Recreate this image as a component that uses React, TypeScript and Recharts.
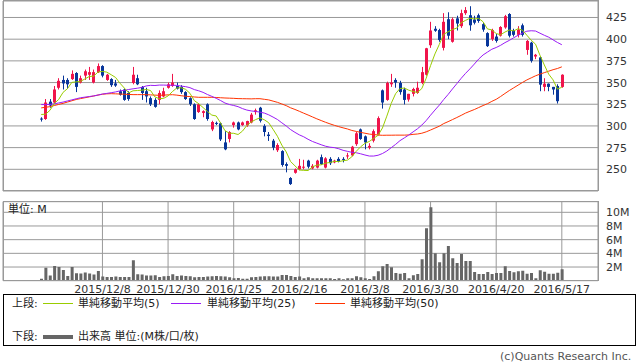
import React from "react";
import { ComposedChart, Bar, Line, XAxis, YAxis, CartesianGrid } from "recharts";

// trading days shown on the chart
const nov2015 = [17, 18, 19, 20, 24, 25, 26, 27, 30];
const dec2015 = [1, 2, 3, 4, 7, 8, 9, 10, 11, 14, 15, 16, 17, 18, 21, 22, 24, 25, 28, 29, 30];
const jan2016 = [4, 5, 6, 7, 8, 12, 13, 14, 15, 18, 19, 20, 21, 22, 25, 26, 27, 28, 29];
const feb2016 = [1, 2, 3, 4, 5, 8, 9, 10, 12, 15, 16, 17, 18, 19, 22, 23, 24, 25, 26, 29];
const mar2016 = [1, 2, 3, 4, 7, 8, 9, 10, 11, 14, 15, 16, 17, 18, 22, 23, 24, 25, 28, 29, 30, 31];
const apr2016 = [1, 4, 5, 6, 7, 8, 11, 12, 13, 14, 15, 18, 19, 20, 21, 22, 25, 26, 27, 28];
const may2016 = [2, 6, 9, 10, 11, 12, 13, 16, 17];

const tickDates = ["2015/12/8", "2015/12/30", "2016/1/25", "2016/2/16", "2016/3/8", "2016/3/30", "2016/4/20", "2016/5/17"];
const priceTicks = [250, 275, 300, 325, 350, 375, 400, 425];
const volumeTicks = [2, 4, 6, 8, 10];

const opens = [
  308.5, 308, 328, 327, 344, 353, 353, 354, 361, 350, 358, 359, 350, 362, 369, 353, 354, 349, 340, 342,
  338, 349.5, 355, 345, 340, 332, 330, 330, 334, 344, 346, 346, 345, 339, 332, 325, 316, 315, 325, 296,
  303.5, 303, 281, 285, 301, 304, 301, 300.6, 304, 316, 321, 300, 290, 283, 272, 271, 256, 240, 246, 250,
  252, 260, 251, 252, 264, 252, 262, 258, 262, 262, 265, 266, 279, 296, 288, 275, 283, 290, 341, 330,
  348, 353, 349.5, 342, 330.4, 337, 338, 349.5, 359, 393, 412, 410.5, 390, 423, 397, 424, 415, 430, 427.6, 422.7,
  427.6, 417.3, 407, 400, 403, 404, 413.5, 429, 410, 405, 416, 387.6, 396, 380, 379, 345, 348.7, 345, 346, 345,
];
const highs = [
  310, 331, 331, 346, 355, 358, 355, 364, 362, 358, 365, 368, 365, 372, 370, 360, 355, 353, 342, 343,
  340, 368, 359, 346, 344, 334, 332, 341, 344, 350, 360, 350, 347, 340, 333, 326, 326, 318, 326, 306,
  305, 304, 294, 294, 305, 305, 305, 306, 315, 320, 322, 302, 293, 285, 280, 272, 258, 241, 251, 262,
  261, 261, 256, 261, 267, 264, 264, 261, 264, 264, 269, 277, 293, 297, 289, 280, 296, 311, 342, 351,
  360, 355, 352, 344, 337, 344, 351, 368, 390, 420, 415, 412, 430, 431, 425, 427, 434, 437, 438, 427,
  429.5, 418.9, 408, 412, 406, 415, 428, 430, 412, 415, 418, 399, 397, 383, 380, 355, 349, 345, 348, 359.5,
];
const lows = [
  305, 307, 321, 326, 342, 342, 343, 353, 339, 349, 353, 353, 349, 361, 356, 352, 345, 345, 335, 329,
  329, 348, 347, 330, 327, 323, 321, 325, 333, 343, 345, 342, 337, 330, 323, 307, 315, 310, 306, 294,
  301, 282.6, 272, 281, 298, 295, 300, 299, 303, 313, 304, 288, 282.7, 272, 270, 253, 246.5, 232, 245, 249,
  250, 251, 250, 251, 255, 251, 255, 257, 258, 258, 262, 265, 277, 284, 273, 273, 281, 289, 320, 329,
  345, 344, 336, 324.8, 328, 334, 337, 348, 358, 390, 408.5, 397, 387, 400, 396, 410, 413, 428, 409.7, 417,
  418.9, 408.6, 391, 398, 396, 403, 412, 402, 403, 402, 403, 382, 373, 377, 340, 340, 340, 336, 325.8, 344,
];
const closes = [
  308, 327, 323.5, 342, 352, 349, 348, 360, 345, 355, 363, 362, 362, 369, 358, 359, 347, 346.5, 336, 330,
  331, 359, 348, 338, 334, 325, 322, 338, 340, 348, 350, 343, 339, 331, 325, 308, 325, 317, 308, 304.5,
  303, 284.5, 273, 293, 304, 296, 304, 305.6, 313, 318, 306, 293, 288.4, 275, 278, 255, 254, 233, 250, 254,
  253, 253, 254, 260, 256, 262.6, 257, 260, 259, 261, 266, 276, 291.5, 285, 281, 277, 294, 309, 327, 349.5,
  350, 350, 339, 330, 337, 342.6, 344, 362, 389.5, 410, 409.7, 399, 420, 404, 423, 418, 430, 433.5, 416, 419,
  421, 411, 392, 410.5, 398, 414, 426.5, 404, 405, 411, 405, 398, 375, 382, 347.6, 348.7, 345, 342, 328.5, 359,
];
// volume, millions
const volumes = [
  0.3, 1.9, 0.75, 2.15, 2.0, 1.55, 0.7, 2.0, 1.1, 1.05, 1.2, 1.05, 0.9, 1.4, 0.6, 0.55, 0.55, 0.6, 0.55, 0.55,
  0.55, 3.0, 0.95, 0.9, 0.75, 0.75, 0.8, 0.55, 0.65, 0.7, 0.95, 0.7, 0.75, 0.7, 0.65, 0.5, 0.55, 0.55, 0.6, 0.65,
  0.7, 0.65, 0.6, 0.5, 0.35, 0.4, 0.3, 0.3, 0.5, 0.55, 0.6, 0.65, 0.65, 0.6, 0.6, 0.85, 0.85, 0.7, 0.55, 0.6,
  0.35, 0.5, 0.35, 0.35, 0.35, 0.35, 0.35, 0.25, 0.35, 0.2, 0.35, 0.35, 0.64, 0.5, 0.35, 0.25, 0.64, 1.37, 2.1, 2.44,
  1.95, 1.13, 1.03, 1.13, 0.35, 0.78, 0.98, 3.12, 7.66, 10.73, 4.0, 2.69, 4.0, 5.07, 3.27, 2.59, 3.9, 2.88, 2.88, 1.27,
  0.98, 0.98, 1.27, 0.98, 1.13, 1.13, 2.1, 1.42, 1.22, 1.37, 1.47, 1.03, 1.13, 0.35, 1.52, 1.32, 1.03, 1.03, 1.17, 1.66,
];
const ma5 = [
  313.2, 313.5, 318, 326, 330.5, 338.7, 342.9, 350.2, 350.8, 351.4, 354.2, 357, 357.4, 362.2, 362.8, 362, 359, 355.9, 349.3, 343.7,
  338.1, 340.5, 340.8, 341.2, 342, 340.8, 333.4, 331.4, 331.8, 334.6, 339.6, 343.8, 344, 342.2, 337.6, 329.2, 325.6, 321.2, 316.6, 312.5,
  311.5, 303.4, 294.6, 291.6, 291.5, 290.1, 294, 300.5, 304.5, 307.3, 309.3, 307.1, 303.7, 296.1, 288.1, 277.9, 270.1, 259, 254, 249.2,
  248.8, 248.6, 252.8, 254.8, 255.2, 257.1, 257.9, 259.1, 258.9, 259.9, 260.6, 264.4, 270.7, 275.9, 279.9, 282.1, 285.7, 289.2, 297.6, 311.3,
  325.9, 337.1, 343.1, 343.7, 341.2, 339.7, 338.5, 343.1, 355, 369.6, 383, 394, 405.6, 408.5, 411.1, 412.8, 419, 421.7, 424.1, 423.3,
  423.9, 420.1, 411.8, 410.7, 406.5, 405.1, 408.2, 410.6, 409.5, 412.1, 410.3, 404.6, 398.8, 394.2, 381.5, 370.3, 359.7, 353.1, 342.4, 344.6,
];
const ma25 = [
  324.6, 324.6, 324.8, 325.5, 326.5, 327.5, 328.8, 330, 331.3, 332.5, 333.2, 333.9, 334.6, 335.6, 336.8, 337.5, 338.3, 339.2, 340.4, 341,
  342, 342.8, 343.5, 344.4, 346.1, 346.8, 346.6, 347.1, 347.1, 346.9, 346.9, 346.7, 345.9, 345.3, 344.1, 341.9, 340.5, 338.7, 336.2, 334.1,
  331.8, 329.3, 326.4, 324.7, 323.6, 322.2, 320, 318.3, 317.3, 316.7, 315.9, 314.8, 312.8, 310.2, 307.4, 303.6, 300, 295.8, 292.6, 289.7,
  287.5, 284.6, 282.1, 280.2, 278.3, 276.6, 275.5, 275, 273.7, 271.9, 270.7, 269.6, 269.1, 267.9, 266.5, 265.3, 265.3, 266.2, 268.2, 271.1,
  274.9, 278.7, 283, 286.2, 289.5, 293.1, 296.7, 301, 306.2, 312.4, 318.3, 324, 330.4, 336.2, 342.6, 348.7, 354.9, 360.6, 365.8, 371.3,
  377.1, 381.8, 385.1, 388.4, 390.4, 392.9, 396, 398.6, 401.6, 404.5, 407, 409.2, 409.7, 409.4, 406.9, 404.5, 402.3, 399.2, 396.2, 393.6,
];
const ma50 = [
  320.8, 321.5, 322.2, 323.5, 324.8, 326, 327.5, 329, 330.5, 331.5, 332.5, 333.5, 334.5, 335.6, 336.5, 337, 337.2, 337, 336.8, 336.5,
  336.3, 336.1, 336.1, 336.1, 336, 335.8, 335.5, 335.3, 335.5, 335.8, 336, 335.5, 334.8, 334.2, 333.8, 333.4, 333, 333, 333, 333,
  332.8, 332.5, 332.2, 332, 331.8, 331.5, 331.4, 331.3, 331.2, 331.4, 331.4, 330.7, 330, 328.6, 327.2, 325.3, 323.4, 320.9, 319, 316.9,
  314.7, 312.6, 310.4, 308.2, 306.2, 304.2, 302.4, 300.7, 299.2, 297.8, 296.5, 294.8, 293.7, 292.6, 291.6, 290.6, 290.1, 289.5, 289.2, 289.3,
  289.3, 289.4, 289.4, 289.4, 289.6, 290.3, 290.7, 291.6, 293.2, 295.3, 297.5, 299.7, 302.7, 304.9, 307.3, 309.7, 312.2, 314.8, 316.9, 318.9,
  321.2, 323.5, 325.6, 328.3, 330.7, 333.9, 337.4, 340.8, 343.9, 347, 350.1, 353, 355.4, 357.8, 359.7, 361.4, 363.1, 364.8, 366.2, 368.1,
];

const UP = "#f0144b";
const DOWN = "#08369a";
const GRID = "#999999";
const FONT = "'DejaVu Sans', 'Noto Sans CJK JP', sans-serif";

const months: [string, number[]][] = [
  ["2015/11", nov2015], ["2015/12", dec2015], ["2016/1", jan2016], ["2016/2", feb2016],
  ["2016/3", mar2016], ["2016/4", apr2016], ["2016/5", may2016],
];
const dates = months.flatMap(([m, days]) => days.map((d) => `${m}/${d}`));

const rows = dates.map((date, i) => ({
  date,
  open: opens[i],
  high: highs[i],
  low: lows[i],
  close: closes[i],
  range: [lows[i], highs[i]],
  volume: volumes[i],
  ma5: ma5[i],
  ma25: ma25[i],
  ma50: ma50[i],
}));

const Candle = (props: any) => {
  const { x, y, width, height, payload } = props;
  if (!payload || payload.open == null) return null;
  const { open, close, high, low } = payload;
  const color = close >= open ? UP : DOWN;
  const top = Math.min(y, y + height);
  const h = Math.abs(height);
  const k = high > low ? h / (high - low) : 0;
  const c = Math.floor(x + width / 2);
  const bodyTop = top + (high - Math.max(open, close)) * k;
  const bodyBot = top + (high - Math.min(open, close)) * k;
  return (
    <g>
      <line x1={c + 0.5} x2={c + 0.5} y1={top} y2={top + h} stroke={color} strokeWidth={1} />
      <rect x={c - 1} y={bodyTop} width={3} height={Math.max(1, bodyBot - bodyTop)} fill={color} />
    </g>
  );
};

const RightTick = ({ x, y, payload, suffix }: any) => (
  <text x={x} y={y} dy={4} fontSize={11} fill="#333" textAnchor="start" fontFamily={FONT}>
    {payload.value}
    {suffix}
  </text>
);

const DateTick = ({ x, y, payload }: any) => (
  <text x={x} y={y} dy={4} fontSize={11} fill="#333" textAnchor="middle" fontFamily={FONT}>
    {payload.value}
  </text>
);

const legendText: React.CSSProperties = { position: "absolute", fontSize: 11, lineHeight: "13px", color: "#222", whiteSpace: "nowrap" };

const App: React.FC = () => {
  const xPad = { left: 36, right: 34 };
  return (
    <div style={{ position: "absolute", left: 0, top: 0, width: 638, height: 362, background: "#fff", fontFamily: FONT }}>
      <div style={{ position: "absolute", left: 0, top: 0 }}>
        <ComposedChart width={638} height={192} data={rows} margin={{ top: 1, right: 0, bottom: 0, left: 3 }}>
          <CartesianGrid stroke={GRID} />
          <XAxis dataKey="date" ticks={tickDates} interval={0} padding={xPad} height={1} tick={false} axisLine={false} tickLine={false} />
          <YAxis
            orientation="right"
            width={40}
            domain={[225, 444]}
            ticks={priceTicks}
            interval={0}
            allowDataOverflow
            axisLine={false}
            tickLine={false}
            tick={<RightTick />}
          />
          <Bar dataKey="range" shape={<Candle />} isAnimationActive={false} />
          <Line dataKey="ma50" stroke="#ff3300" strokeWidth={1} dot={false} isAnimationActive={false} />
          <Line dataKey="ma25" stroke="#9a1cf5" strokeWidth={1} dot={false} isAnimationActive={false} />
          <Line dataKey="ma5" stroke="#99cc00" strokeWidth={1} dot={false} isAnimationActive={false} />
        </ComposedChart>
      </div>
      <div style={{ position: "absolute", left: 3, top: 0, width: 596, height: 191, border: `1px solid ${GRID}`, boxSizing: "border-box", pointerEvents: "none" }} />

      <div style={{ position: "absolute", left: 0, top: 196 }}>
        <ComposedChart width={638} height={104} data={rows} margin={{ top: 5.7, right: 0, bottom: 0, left: 3 }}>
          <CartesianGrid stroke={GRID} />
          <XAxis dataKey="date" ticks={tickDates} interval={0} padding={xPad} height={19.3} axisLine={false} tickLine={false} tick={<DateTick />} />
          <YAxis
            orientation="right"
            width={40}
            domain={[0, 11.55]}
            ticks={volumeTicks}
            interval={0}
            allowDataOverflow
            axisLine={false}
            tickLine={false}
            tick={<RightTick suffix="M" />}
          />
          <Bar dataKey="volume" fill="#666666" barSize={3} isAnimationActive={false} />
        </ComposedChart>
      </div>
      <div style={{ position: "absolute", left: 3, top: 201, width: 596, height: 80, border: `1px solid ${GRID}`, boxSizing: "border-box", pointerEvents: "none" }} />
      <div style={{ ...legendText, left: 8, top: 203 }}>単位: M</div>

      <div style={{ position: "absolute", left: 3, top: 294, width: 633, height: 52, border: "1px solid #000", boxSizing: "border-box" }} />
      <div style={{ ...legendText, left: 12, top: 297 }}>上段:</div>
      <div style={{ position: "absolute", left: 43, top: 303, width: 30, height: 1, background: "#99cc00" }} />
      <div style={{ ...legendText, left: 78, top: 297 }}>単純移動平均(5)</div>
      <div style={{ position: "absolute", left: 171, top: 303, width: 30, height: 1, background: "#9a1cf5" }} />
      <div style={{ ...legendText, left: 207, top: 297 }}>単純移動平均(25)</div>
      <div style={{ position: "absolute", left: 315, top: 303, width: 30, height: 1, background: "#ff3300" }} />
      <div style={{ ...legendText, left: 350, top: 297 }}>単純移動平均(50)</div>
      <div style={{ ...legendText, left: 12, top: 330 }}>下段:</div>
      <div style={{ position: "absolute", left: 43, top: 335, width: 30, height: 4, background: "#666666" }} />
      <div style={{ ...legendText, left: 78, top: 330 }}>出来高 単位:(M株/口/枚)</div>

      <div style={{ ...legendText, left: 500, top: 350, color: "#555" }}>(c)Quants Research Inc.</div>
    </div>
  );
};

export default App;
